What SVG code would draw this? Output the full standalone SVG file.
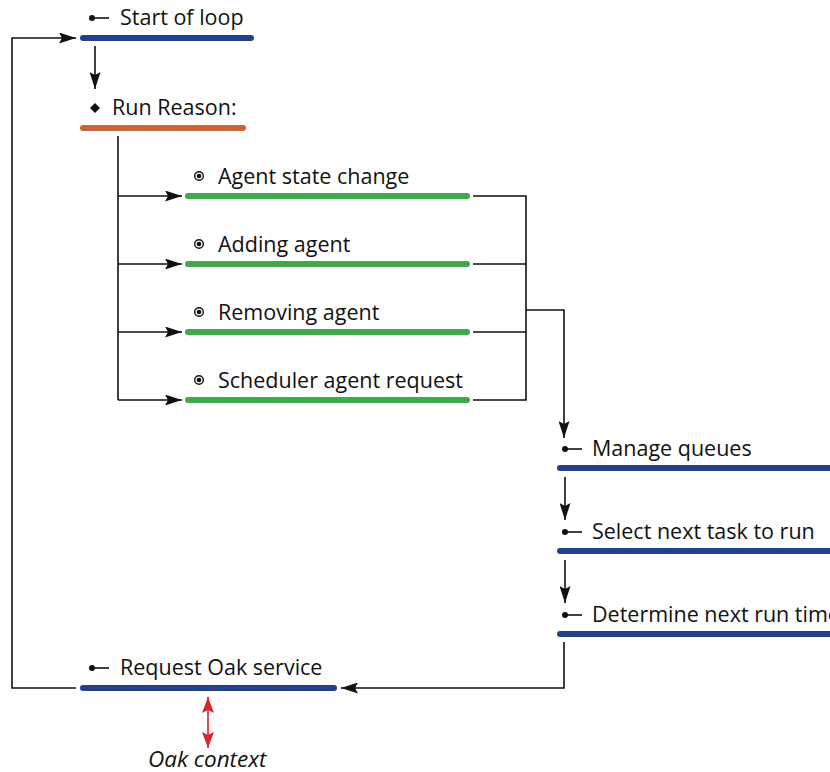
<svg xmlns="http://www.w3.org/2000/svg" width="830" height="772" viewBox="0 0 830 772">
  <style>
    .lbl { font-family: "Open Sans", "Liberation Sans", sans-serif; font-size: 21.5px; fill: #111; }
    .ital { font-style: italic; font-size: 22.5px; }
    .bar { stroke-width: 6; stroke-linecap: round; fill: none; }
    .blue { stroke: #243f8f; }
    .orange { stroke: #cd6539; }
    .green { stroke: #3eab4b; }
    .wire { stroke: #111; stroke-width: 1.6; fill: none; }
    .red { stroke: #d6252d; stroke-width: 1.6; fill: none; }
  </style>
  <defs>
    <marker id="arr" viewBox="0 0 17 11" refX="17" refY="5.5" markerWidth="17" markerHeight="11" markerUnits="userSpaceOnUse" orient="auto">
      <path d="M0,0 L17,5.5 L0,11 L3,5.5 z" fill="#111"/>
    </marker>
    <marker id="arrRed" viewBox="0 0 16 12" refX="16" refY="6" markerWidth="16" markerHeight="12" markerUnits="userSpaceOnUse" orient="auto-start-reverse">
      <path d="M0,0 L16,6 L0,12 L3,6 z" fill="#d6252d"/>
    </marker>
    <g id="pin">
      <circle cx="0" cy="0" r="3" fill="#111"/>
      <line x1="0" y1="0" x2="17" y2="0" stroke="#111" stroke-width="1.6"/>
    </g>
    <g id="ring">
      <circle cx="0" cy="0" r="4.3" fill="none" stroke="#111" stroke-width="1.4"/>
      <circle cx="0" cy="0" r="2.3" fill="#111"/>
    </g>
  </defs>

  <!-- connectors -->
  <g id="connectors">
    <path class="wire" d="M76,688 H12 V38 H76" marker-end="url(#arr)"/>
    <path class="wire" d="M95,46 V89" marker-end="url(#arr)"/>
    <path class="wire" d="M118,136 V400"/>
    <path class="wire" d="M118,196 H182" marker-end="url(#arr)"/>
    <path class="wire" d="M118,264 H182" marker-end="url(#arr)"/>
    <path class="wire" d="M118,332 H182" marker-end="url(#arr)"/>
    <path class="wire" d="M118,400 H182" marker-end="url(#arr)"/>
    <path class="wire" d="M473,196 H526 V400 H473"/>
    <path class="wire" d="M473,264 H526"/>
    <path class="wire" d="M473,332 H526"/>
    <path class="wire" d="M526,310 H564 V438" marker-end="url(#arr)"/>
    <path class="wire" d="M565,477 V520" marker-end="url(#arr)"/>
    <path class="wire" d="M565,560 V603" marker-end="url(#arr)"/>
    <path class="wire" d="M564,642 V688 H341" marker-end="url(#arr)"/>
    <path class="red" d="M208,697 V748" marker-start="url(#arrRed)" marker-end="url(#arrRed)"/>
  </g>

  <g id="start-of-loop">
    <use href="#pin" x="92" y="18"/>
    <text class="lbl" x="120" y="25">Start of loop</text>
    <line class="bar blue" x1="83" y1="38" x2="251" y2="38"/>
  </g>

  <g id="run-reason">
    <path d="M95,103 L100,108 L95,113 L90,108 z" fill="#111"/>
    <text class="lbl" x="112" y="115">Run Reason:</text>
    <line class="bar orange" x1="83" y1="128" x2="243" y2="128"/>
  </g>

  <g id="agent-state-change">
    <use href="#ring" x="199" y="176"/>
    <text class="lbl" x="218" y="184">Agent state change</text>
    <line class="bar green" x1="188" y1="196" x2="467" y2="196"/>
  </g>

  <g id="adding-agent">
    <use href="#ring" x="199" y="244"/>
    <text class="lbl" x="218" y="252">Adding agent</text>
    <line class="bar green" x1="188" y1="264" x2="467" y2="264"/>
  </g>

  <g id="removing-agent">
    <use href="#ring" x="199" y="312"/>
    <text class="lbl" x="218" y="320">Removing agent</text>
    <line class="bar green" x1="188" y1="332" x2="467" y2="332"/>
  </g>

  <g id="scheduler-agent-request">
    <use href="#ring" x="199" y="380"/>
    <text class="lbl" x="218" y="388">Scheduler agent request</text>
    <line class="bar green" x1="188" y1="400" x2="467" y2="400"/>
  </g>

  <g id="manage-queues">
    <use href="#pin" x="565" y="449"/>
    <text class="lbl" x="592" y="456">Manage queues</text>
    <line class="bar blue" x1="560" y1="468" x2="836" y2="468"/>
  </g>

  <g id="select-next-task">
    <use href="#pin" x="565" y="532"/>
    <text class="lbl" x="592" y="539">Select next task to run</text>
    <line class="bar blue" x1="560" y1="551" x2="836" y2="551"/>
  </g>

  <g id="determine-next-run-time">
    <use href="#pin" x="565" y="615"/>
    <text class="lbl" x="592" y="622">Determine next run time</text>
    <line class="bar blue" x1="560" y1="634" x2="836" y2="634"/>
  </g>

  <g id="request-oak-service">
    <use href="#pin" x="92" y="668"/>
    <text class="lbl" x="120" y="675">Request Oak service</text>
    <line class="bar blue" x1="83" y1="688" x2="334" y2="688"/>
  </g>

  <g id="oak-context">
    <text class="lbl ital" x="148" y="767">Oak context</text>
  </g>
</svg>
